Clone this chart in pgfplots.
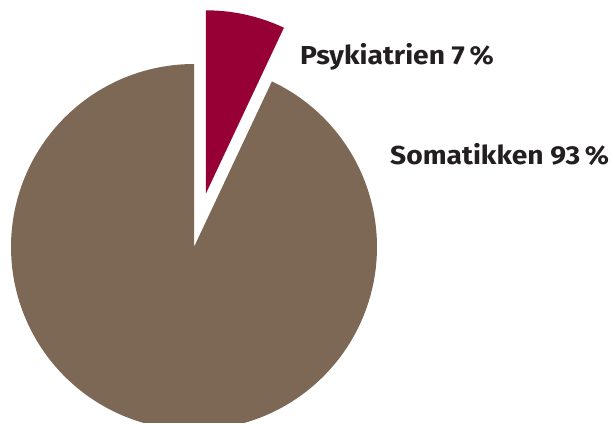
\documentclass[border=0pt]{standalone}
\usepackage{pgfplots}
\pgfplotsset{compat=1.18}
\usepackage{fontspec}
\setmainfont{Fira Sans}
\definecolor{psyk}{HTML}{970034}
\definecolor{soma}{HTML}{7D6856}
\definecolor{txt}{HTML}{231F20}
% data (percent)
\def\valPsyk{7}
\def\valSoma{93}
\begin{document}
\begin{tikzpicture}
\pgfmathsetmacro{\aStart}{90}
\pgfmathsetmacro{\aMid}{90-3.6*\valPsyk}
\pgfmathsetmacro{\aEnd}{\aMid-3.6*\valSoma}
\pgfmathsetmacro{\aHalf}{90-1.8*\valPsyk}
\pgfmathsetmacro{\ex}{194+55*cos(\aHalf)}
\pgfmathsetmacro{\ey}{176+55*sin(\aHalf)}
\begin{axis}[
  x=1pt, y=1pt, scale only axis,
  xmin=0, xmax=613, ymin=0, ymax=423,
  hide axis, clip=true,
]
\addplot[fill=soma, draw=none, domain=\aEnd:\aMid, samples=240]
  ({194+183*cos(x)},{176+183*sin(x)}) -- (axis cs:194,176) -- cycle;
\addplot[fill=psyk, draw=none, domain=\aMid:\aStart, samples=40]
  ({\ex+183*cos(x)},{\ey+183*sin(x)}) -- (axis cs:\ex,\ey) -- cycle;
\node[anchor=base west, inner sep=0pt, text=txt, font=\fontsize{26}{30}\selectfont\bfseries] at (axis cs:300,358) {\scalebox{1.085}[1]{Psykiatrien \valPsyk\,\%}};
\node[anchor=base west, inner sep=0pt, text=txt, font=\fontsize{26}{30}\selectfont\bfseries] at (axis cs:390,258) {\scalebox{1.085}[1]{Somatikken \valSoma\,\%}};
\end{axis}
\pgfresetboundingbox
\path (0,0) rectangle (613pt,423pt);
\end{tikzpicture}
\end{document}
